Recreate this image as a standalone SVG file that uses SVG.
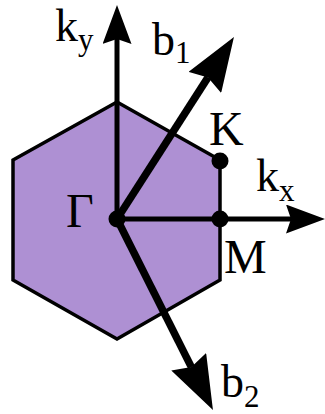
<svg xmlns="http://www.w3.org/2000/svg" width="325" height="414" viewBox="0 0 325 414">
<style>
.lbl{font-family:"Liberation Serif","DejaVu Serif",serif;font-size:46px;fill:#000}
.cap{font-size:48px}
.sub{font-size:31px}
.ax{stroke:#000;stroke-width:5;fill:none}
.vec{stroke:#000;stroke-width:7.5;fill:none}
.dot{fill:#000}
</style>
<defs>
<marker id="ah" markerUnits="userSpaceOnUse" viewBox="0 0 39 29" markerWidth="39" markerHeight="29" refX="5" refY="14.5" orient="auto">
<path d="M0,0 L39,14.5 L0,29 L5,14.5 Z" fill="#000"/>
</marker>
<marker id="ahb" markerUnits="userSpaceOnUse" viewBox="0 0 54 39" markerWidth="54" markerHeight="39" refX="6" refY="19.5" orient="auto">
<path d="M0,0 L54,19.5 L0,39 L6,19.5 Z" fill="#000"/>
</marker>
</defs>
<g id="zone">
<polygon points="117,102 220,160 220,280 117,339 13,280 13,160" fill="#AE90D3" stroke="#000" stroke-width="3.5" stroke-linejoin="miter"/>
</g>
<g id="connectors">
<line class="ax" x1="117" y1="219" x2="117" y2="39" marker-end="url(#ah)"/>
<line class="ax" x1="117" y1="219" x2="291" y2="219" marker-end="url(#ah)"/>
<line class="vec" x1="117" y1="219" x2="208" y2="77.4" marker-end="url(#ahb)"/>
<line class="vec" x1="117" y1="219" x2="191.4" y2="367.1" marker-end="url(#ahb)"/>
</g>
<g id="gamma">
<circle class="dot" cx="117" cy="219" r="8.5"/>
<text class="lbl cap" x="66" y="227">Γ</text>
</g>
<g id="K">
<circle class="dot" cx="220" cy="161" r="8.5"/>
<text class="lbl cap" x="209" y="145">K</text>
</g>
<g id="M">
<circle class="dot" cx="220" cy="219" r="8.5"/>
<text class="lbl cap" x="224" y="273">M</text>
</g>
<g id="ky">
<text class="lbl" x="55" y="41">k<tspan class="sub" dy="9">y</tspan></text>
</g>
<g id="kx">
<text class="lbl" x="256" y="191">k<tspan class="sub" dy="10">x</tspan></text>
</g>
<g id="b1">
<text class="lbl" x="152" y="55">b<tspan class="sub" dy="8">1</tspan></text>
</g>
<g id="b2">
<text class="lbl" x="221" y="397">b<tspan class="sub" dy="10">2</tspan></text>
</g>
</svg>
